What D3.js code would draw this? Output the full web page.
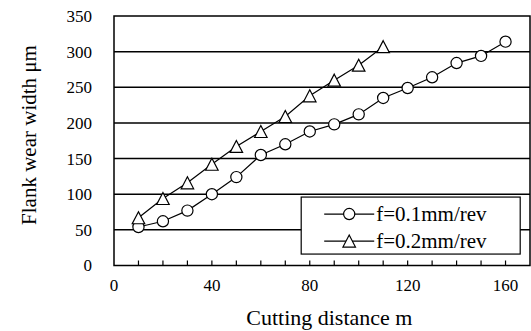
<!DOCTYPE html>
<html>
<head>
<meta charset="utf-8">
<script src="https://cdn.jsdelivr.net/npm/d3@7"></script>
<style>
  body { margin: 0; background: #fff; }
  svg { display: block; }
</style>
</head>
<body>
<div id="chart"></div>
<script>
// cutting distance (m) vs flank wear width (μm)
const distance01 = [10, 20, 30, 40, 50, 60, 70, 80, 90, 100, 110, 120, 130, 140, 150, 160];
const wear01 = [54, 62, 77, 100, 124, 155, 170, 188, 198, 212, 235, 249, 264, 284, 294, 314];
const distance02 = [10, 20, 30, 40, 50, 60, 70, 80, 90, 100, 110];
const wear02 = [67, 94, 116, 142, 167, 188, 209, 238, 260, 281, 307];

const xLabelTicks = [0, 40, 80, 120, 160];
const xMinorTicks = [10, 20, 30, 40, 50, 60, 70, 80, 90, 100, 110, 120, 130, 140, 150, 160];
const yTicks = [0, 50, 100, 150, 200, 250, 300, 350];
const seriesNames = ['f=0.1mm/rev', 'f=0.2mm/rev'];

const FONT = '"Liberation Serif", "Times New Roman", Times, serif';
const W = 531, H = 331;
const margin = {top: 16, right: 1, bottom: 65.5, left: 114};
const width = W - margin.left - margin.right,
      height = H - margin.top - margin.bottom;

const x = d3.scaleLinear().domain([0, 170]).range([0, width]);
const y = d3.scaleLinear().domain([0, 350]).range([height, 0]);

const svg = d3.select('#chart').append('svg')
    .attr('width', W).attr('height', H)
    .attr('font-family', FONT);
const g = svg.append('g')
    .attr('transform', `translate(${margin.left},${margin.top})`);

// horizontal grid lines
g.selectAll('.grid').data(yTicks.filter(d => d > 0 && d < 350)).enter()
    .append('line')
    .attr('x1', 0).attr('x2', width)
    .attr('y1', d => y(d)).attr('y2', d => y(d))
    .attr('stroke', '#000').attr('stroke-width', 1.5);

// y tick labels
g.selectAll('.ylab').data(yTicks).enter()
    .append('text')
    .attr('x', -22).attr('y', d => y(d))
    .attr('dy', '0.35em')
    .attr('text-anchor', 'end')
    .attr('font-size', 17)
    .text(d => d);

// x minor ticks, pointing inward
g.selectAll('.xtick').data(xMinorTicks).enter()
    .append('line')
    .attr('x1', d => x(d)).attr('x2', d => x(d))
    .attr('y1', height).attr('y2', height - 5)
    .attr('stroke', '#000').attr('stroke-width', 1.2);

// x tick labels
g.selectAll('.xlab').data(xLabelTicks).enter()
    .append('text')
    .attr('x', d => x(d)).attr('y', height + 25)
    .attr('text-anchor', 'middle')
    .attr('font-size', 17)
    .text(d => d);

// series lines + markers
const line = d3.line().x(d => x(d[0])).y(d => y(d[1]));
const s1 = distance01.map((d, i) => [d, wear01[i]]);
const s2 = distance02.map((d, i) => [d, wear02[i]]);

g.append('path').datum(s1).attr('d', line)
    .attr('fill', 'none').attr('stroke', '#000').attr('stroke-width', 1.2);
g.append('path').datum(s2).attr('d', line)
    .attr('fill', 'none').attr('stroke', '#000').attr('stroke-width', 1.2);

// excel-style triangle, centred on its bounding box
const triPath = (w, h) => `M0,${-h / 2}L${w / 2},${h / 2}L${-w / 2},${h / 2}Z`;
const R = 5.6;

g.selectAll('.c1').data(s1).enter()
    .append('circle')
    .attr('cx', d => x(d[0])).attr('cy', d => y(d[1])).attr('r', R)
    .attr('fill', '#fff').attr('stroke', '#000').attr('stroke-width', 1.2);
g.selectAll('.t2').data(s2).enter()
    .append('path')
    .attr('d', triPath(12.5, 12))
    .attr('transform', d => `translate(${x(d[0])},${y(d[1])})`)
    .attr('fill', '#fff').attr('stroke', '#000').attr('stroke-width', 1.2);

// frame
g.append('rect')
    .attr('width', width).attr('height', height)
    .attr('fill', 'none').attr('stroke', '#000').attr('stroke-width', 1.5);

// legend
const lg = g.append('g').attr('transform', `translate(${x(76.5)},${y(96)})`);
lg.append('rect').attr('width', 219).attr('height', 57)
    .attr('fill', '#fff').attr('stroke', '#000').attr('stroke-width', 1.2);
seriesNames.forEach((name, i) => {
    const yy = 17 + i * 27;
    lg.append('line').attr('x1', 23).attr('x2', 73).attr('y1', yy).attr('y2', yy)
        .attr('stroke', '#000').attr('stroke-width', 1.2);
    if (i === 0) {
        lg.append('circle').attr('cx', 48).attr('cy', yy).attr('r', R)
            .attr('fill', '#fff').attr('stroke', '#000').attr('stroke-width', 1.2);
    } else {
        lg.append('path').attr('d', triPath(12.5, 12)).attr('transform', `translate(48,${yy})`)
            .attr('fill', '#fff').attr('stroke', '#000').attr('stroke-width', 1.2);
    }
    lg.append('text').attr('x', 75).attr('y', yy).attr('dy', '0.35em')
        .attr('font-size', 21).text(name);
});

// axis titles
svg.append('text')
    .attr('x', margin.left + x(88)).attr('y', 325)
    .attr('text-anchor', 'middle').attr('font-size', 22)
    .text('Cutting distance m');
svg.append('text')
    .attr('transform', `translate(36,135) rotate(-90)`)
    .attr('text-anchor', 'middle').attr('font-size', 21)
    .text('Flank wear width μm');
</script>
</body>
</html>
